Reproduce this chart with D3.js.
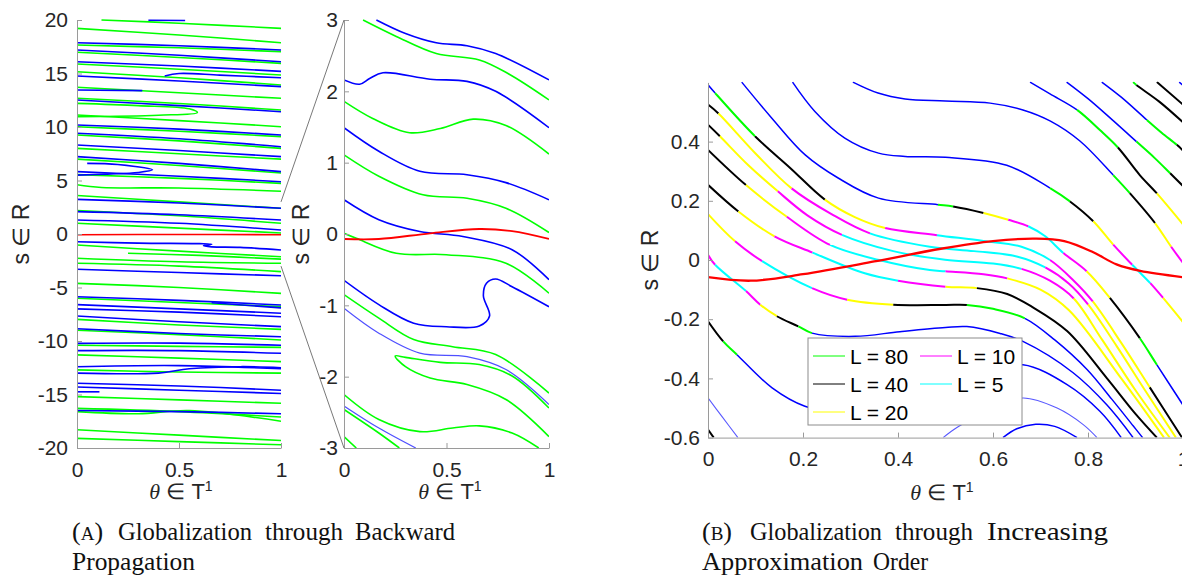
<!DOCTYPE html>
<html>
<head>
<meta charset="utf-8">
<script src="https://cdnjs.cloudflare.com/ajax/libs/d3/7.8.5/d3.min.js"></script>
<style>
  body { margin: 0; background: #fff; }
  svg { display: block; }
</style>
</head>
<body>
<svg id="fig" width="1182" height="576"></svg>
<script>
// ---------- data: panel (a), backward propagation, each curve is [theta, s] points ----------
const leftGreen = [
  [[0.12,20.0],[0.5,19.7],[1,19.22]],
  [[0,19.22],[0.5,18.6],[1,17.88]],
  [[0,17.66],[0.5,17.4],[1,17.04]],
  [[0,16.98],[0.5,16.5],[1,15.95]],
  [[0,15.89],[0.5,15.4],[1,14.86]],
  [[0,15.17],[0.5,14.6],[1,13.93]],
  [[0,13.71],[0.5,13.2],[1,12.68]],
  [[0,12.68],[0.5,12.2],[1,11.59]],
  [[0,12.21],[0.3,12.0],[0.55,11.7],[0.59,11.35],[0.4,11.1],[0,10.97]],
  [[0,11.12],[0.5,10.6],[1,10.03]],
  [[0,10.03],[0.5,9.6],[1,9.1]],
  [[0,9.25],[0.5,8.7],[1,8.0]],
  [[0,8.0],[0.5,7.5],[1,7.0]],
  [[0,7.0],[0.5,6.4],[1,5.7]],
  [[0,5.55],[0.5,5.2],[1,4.73]],
  [[0,4.6],[0.12,4.35],[0.5,4.3],[1,4.0]],
  [[0,3.6],[0.5,3.0],[1,2.4]],
  [[0,2.2],[0.5,1.7],[1,1.0]],
  [[0,1.0],[0.5,0.55],[1,0.1]],
  [[0,-1.03],[0.5,-1.6],[1,-2.12]],
  [[0.25,-1.8],[0.6,-2.0],[1,-2.35]],
  [[0,-2.27],[0.5,-2.6],[1,-2.74]],
  [[0,-2.74],[0.5,-3.0],[1,-3.52]],
  [[0,-4.61],[0.5,-5.0],[1,-5.55]],
  [[0,-6.01],[0.5,-6.4],[1,-6.79]],
  [[0,-7.98],[0.5,-8.5],[1,-8.91]],
  [[0,-9.0],[0.5,-9.4],[1,-9.9]],
  [[0,-10.4],[0.5,-10.5],[1,-10.6]],
  [[0,-11.3],[0.5,-11.6],[1,-11.93]],
  [[0,-12.7],[0.5,-12.9],[1,-13.0]],
  [[0,-15.2],[0.5,-15.5],[1,-15.82]],
  [[0,-16.3],[0.5,-16.6],[1,-17.1]],
  [[0,-16.6],[0.3,-16.8],[0.55,-16.5],[1,-17.5]],
  [[0,-18.3],[0.5,-18.8],[1,-19.3]],
  [[0,-19.1],[0.5,-19.4],[1,-19.7]]
];
const leftBlue = [
  [[0.35,19.98],[0.53,19.95]],
  [[0,17.88],[0.5,17.6],[1,17.2]],
  [[0,17.2],[0.5,16.7],[1,16.1]],
  [[0,16.1],[0.5,15.7],[1,15.2]],
  [[0.43,14.77],[0.5,15.0],[0.7,14.85],[1,14.6]],
  [[0,14.77],[0.5,14.3],[1,13.77]],
  [[0,13.46],[0.32,13.4]],
  [[0,12.52],[0.5,12.0],[1,11.43]],
  [[0,10.19],[0.5,9.8],[1,9.25]],
  [[0,9.41],[0.5,8.9],[1,8.16]],
  [[0,8.32],[0.5,7.8],[1,7.23]],
  [[0,7.23],[0.5,6.6],[1,5.83]],
  [[0.05,6.6],[0.2,6.5],[0.37,6.0],[0.3,5.75],[0.15,5.6],[0,5.5]],
  [[0,5.83],[0.5,5.4],[1,4.89]],
  [[0,3.24],[0.5,2.9],[1,2.4]],
  [[0,2.09],[0.5,1.8],[1,1.31]],
  [[0,1.31],[0.5,1.0],[1,0.37]],
  [[0,-0.72],[0.3,-0.85],[0.6,-0.9],[0.66,-0.95],[0.62,-1.1],[0.66,-1.2],[0.8,-1.25],[1,-1.5]],
  [[0,-3.3],[0.5,-3.6],[1,-3.9]],
  [[0,-5.86],[0.5,-6.2],[1,-6.63]],
  [[0,-6.6],[0.5,-7.0],[1,-7.4]],
  [[0,-7.0],[0.5,-7.3],[1,-7.73]],
  [[0.66,-6.42],[1,-6.9]],
  [[0,-7.66],[0.5,-8.2],[1,-8.66]],
  [[0,-8.85],[0.5,-9.3],[1,-9.6]],
  [[0,-10.22],[0.5,-10.2],[1,-10.4]],
  [[0,-10.9],[0.5,-10.9],[1,-11.15]],
  [[0,-12.4],[0.5,-12.3],[1,-12.6]],
  [[0,-13.0],[0.4,-13.0],[0.55,-12.6],[0.8,-12.4],[1,-12.5]],
  [[0,-13.95],[0.5,-14.2],[1,-14.6]],
  [[0,-14.3],[0.5,-14.6],[1,-14.9]],
  [[0,-14.75],[0.11,-14.75]],
  [[0,-16.5],[0.5,-16.6],[1,-16.8]]
];
const leftRed = [[0,-0.07],[0.5,-0.04],[1,-0.07]];

// ---------- data: zoomed panel, s in [-3, 3] ----------
const midGreen = [
  [[0.093,3.0],[0.255,2.77],[0.45,2.53],[0.66,2.44],[0.8,2.25],[1,1.88]],
  [[0,1.86],[0.14,1.62],[0.32,1.42],[0.47,1.48],[0.63,1.61],[0.79,1.52],[1,1.12]],
  [[0,1.11],[0.17,0.81],[0.385,0.55],[0.6,0.5],[0.79,0.36],[1,0.02]],
  [[0,0.01],[0.06,-0.06],[0.255,-0.27],[0.5,-0.29],[0.79,-0.41],[1,-0.83]],
  [[0,-0.85],[0.17,-1.18],[0.34,-1.48],[0.53,-1.58],[0.74,-1.69],[1,-2.23]],
  [[1,-2.44],[0.82,-1.99],[0.66,-1.83],[0.47,-1.8],[0.3,-1.73],[0.25,-1.71],[0.3,-1.86],[0.42,-2.02],[0.6,-2.11],[0.79,-2.32],[1,-2.84]],
  [[0,-2.25],[0.17,-2.6],[0.37,-2.77],[0.53,-2.72],[0.66,-2.69],[0.82,-2.79],[0.95,-3.0]],
  [[0,-2.46],[0.17,-2.79],[0.27,-3.0]],
  [[0,-2.84],[0.06,-3.0]]
];
const midBlue = [
  [[0.158,3.0],[0.3,2.81],[0.45,2.68],[0.6,2.64],[0.74,2.53],[1,2.16]],
  [[0,2.16],[0.076,2.1],[0.125,2.18],[0.19,2.26],[0.42,2.17],[0.6,2.14],[0.74,2.0],[1,1.49]],
  [[0,1.49],[0.17,1.16],[0.37,0.88],[0.6,0.83],[0.79,0.72],[1,0.48]],
  [[0,0.48],[0.17,0.2],[0.37,0.035],[0.58,-0.035],[0.82,-0.22],[1,-0.64]],
  [[0,-0.65],[0.17,-0.99],[0.34,-1.25],[0.5,-1.3],[0.66,-1.29],[0.71,-1.15],[0.68,-0.87],[0.695,-0.69],[0.74,-0.63],[0.82,-0.74],[1,-1.02]]
];
const midBlueFaint = [
  [[0,-1.04],[0.17,-1.39],[0.37,-1.67],[0.6,-1.72],[0.79,-1.9],[1,-2.39]],
  [[0,-2.41],[0.17,-2.72],[0.35,-3.0]]
];
const midRed = [[0,-0.07],[0.17,-0.07],[0.42,0.01],[0.66,0.07],[0.82,0.04],[1,-0.07]];

// ---------- data: panel (b), points are [theta, s, L of the following piece]; L = 0 means blue ----------
const curveR1 = [[0.305,0.601,0],[0.358,0.564,0],[0.415,0.544,0],[0.5,0.537,0],[0.594,0.53,0],[0.663,0.507,0],[0.72,0.47,0],[0.783,0.402,0],[0.853,0.287,80],[0.888,0.226,40],[0.941,0.125,20],[0.975,0.045,10],[1,-0.01,10]];
const curveR2 = [[0.178,0.601,0],[0.225,0.502,0],[0.288,0.412,0],[0.359,0.361,0],[0.415,0.35,0],[0.5,0.347,0],[0.629,0.32,0],[0.72,0.243,80],[0.762,0.198,40],[0.811,0.131,20],[0.853,0.052,10],[0.893,-0.016,5],[0.931,-0.078,10],[0.958,-0.128,20],[1,-0.21,20]];
const curveL0 = [[0.071,0.601,0],[0.134,0.48,0],[0.204,0.356,0],[0.274,0.277,0],[0.359,0.209,0],[0.484,0.187,80],[0.516,0.181,40],[0.58,0.159,20],[0.632,0.136,10],[0.674,0.114,5],[0.71,0.08,5],[0.748,0.024,10],[0.797,-0.038,20],[0.846,-0.128,40],[0.909,-0.264,80],[0.945,-0.354,0],[1,-0.49,0]];
const curveA = [[0,0.592,0],[0.015,0.564,80],[0.099,0.418,40],[0.173,0.311,40],[0.246,0.204,20],[0.309,0.145,20],[0.373,0.108,10],[0.482,0.084,5],[0.58,0.064,5],[0.66,0.045,5],[0.72,0.0,10],[0.77,-0.07,10],[0.81,-0.14,20],[0.87,-0.28,20],[0.93,-0.43,40],[0.998,-0.6,40]];
const curveB = [[0,0.525,40],[0.022,0.495,20],[0.1,0.36,20],[0.176,0.242,10],[0.26,0.155,10],[0.341,0.09,5],[0.467,0.045,5],[0.56,0.03,5],[0.65,0.012,5],[0.71,-0.025,10],[0.76,-0.08,10],[0.8,-0.15,20],[0.86,-0.29,20],[0.92,-0.44,20],[0.985,-0.6,20]];
const curveC = [[0,0.457,40],[0.025,0.418,20],[0.085,0.32,20],[0.147,0.232,10],[0.21,0.15,10],[0.282,0.085,5],[0.39,0.03,5],[0.499,0.001,5],[0.6,-0.012,5],[0.66,-0.03,10],[0.72,-0.07,10],[0.77,-0.13,20],[0.83,-0.27,20],[0.9,-0.44,20],[0.972,-0.6,20]];
const curveD = [[0,0.372,40],[0.08,0.253,20],[0.166,0.146,10],[0.257,0.051,5],[0.36,0.0,5],[0.467,-0.034,5],[0.5,-0.038,10],[0.58,-0.048,10],[0.63,-0.062,20],[0.7,-0.1,20],[0.76,-0.17,20],[0.87,-0.4,20],[0.96,-0.6,20]];
const curveE = [[0,0.254,40],[0.064,0.164,20],[0.14,0.08,10],[0.22,0.025,5],[0.33,-0.045,5],[0.4,-0.07,10],[0.5,-0.09,20],[0.566,-0.095,40],[0.63,-0.115,40],[0.684,-0.16,40],[0.756,-0.24,40],[0.84,-0.4,40],[0.9,-0.52,40],[0.945,-0.6,40]];
const curveF = [[0,0.155,20],[0.057,0.063,10],[0.114,-0.004,5],[0.219,-0.095,10],[0.293,-0.134,20],[0.39,-0.151,40],[0.5,-0.152,40],[0.545,-0.152,80],[0.6,-0.165,80],[0.667,-0.197,0],[0.73,-0.27,0],[0.798,-0.37,0],[0.85,-0.47,0],[0.895,-0.56,0],[0.915,-0.6,0]];
const curveG = [[0,0.018,10],[0.015,-0.016,5],[0.08,-0.105,10],[0.11,-0.151,20],[0.145,-0.19,40],[0.19,-0.224,80],[0.219,-0.247,0],[0.31,-0.258,0],[0.404,-0.242,0],[0.5,-0.228,0],[0.545,-0.225,0],[0.615,-0.248,0],[0.663,-0.275,0],[0.768,-0.38,0],[0.84,-0.49,0],[0.895,-0.6,0]];
const curveH = [[0,-0.207,40],[0.032,-0.275,80],[0.061,-0.32,0],[0.135,-0.432,0],[0.204,-0.494,0],[0.3,-0.52,0],[0.45,-0.47,0],[0.58,-0.38,0],[0.663,-0.354,0],[0.756,-0.421,0],[0.825,-0.511,0],[0.87,-0.6,0]];
const curveJ = [[0,-0.573,40],[0.012,-0.6,40]];
const curveArch = [[0.621,-0.6,0],[0.65,-0.57,0],[0.69,-0.555,0],[0.73,-0.562,0],[0.777,-0.6,0]];
const curveT1 = [[0.678,0.601,0],[0.72,0.561,0],[0.777,0.507,80],[0.825,0.439,80],[0.863,0.38,40],[0.909,0.287,40],[0.945,0.225,20],[1,0.12,20]];
const curveT2 = [[0.755,0.601,0],[0.8,0.545,0],[0.85,0.475,0],[0.902,0.4,80],[0.94,0.345,80],[0.973,0.293,40],[1,0.25,40]];
const curveT3 = [[0.829,0.601,0],[0.87,0.55,0],[0.924,0.473,80],[0.955,0.43,80],[0.987,0.389,40],[1,0.37,40]];
const curveT4 = [[0.895,0.601,80],[0.902,0.591,40],[0.95,0.535,40],[1,0.465,40]];
const curveT5 = [[0.945,0.601,40],[1,0.525,40]];
const curveT6 = [[0.992,0.601,0],[1,0.59,0]];
const rightCurves = [curveR1, curveR2, curveL0, curveA, curveB, curveC, curveD, curveE, curveF, curveG,
                     curveH, curveJ, curveArch, curveT1, curveT2, curveT3, curveT4, curveT5, curveT6];
const rightFaint = [
  [[0.495,-0.6],[0.524,-0.566],[0.6,-0.5],[0.663,-0.466],[0.735,-0.5],[0.79,-0.556],[0.819,-0.6]],
  [[0,-0.466],[0.03,-0.53],[0.063,-0.6]]
];
const rightRed = [[0,-0.058],[0.09,-0.07],[0.2,-0.048],[0.35,-0.005],[0.49,0.038],[0.6,0.064],[0.69,0.072],[0.75,0.064],[0.81,0.027],[0.86,-0.015],[0.91,-0.037],[1,-0.058]];

const legendLevels = [80, 40, 20, 10, 5];

// tick values
const leftYTicks = [-20,-15,-10,-5,0,5,10,15,20];
const midYTicks = [-3,-2,-1,0,1,2,3];
const thetaTicks = [0,0.5,1];
const rightXTicks = [0,0.2,0.4,0.6,0.8,1];
const rightYTicks = [-0.6,-0.4,-0.2,0,0.2,0.4];

// ---------- drawing ----------
const svg = d3.select("#fig");
const SANS = "'Liberation Sans', Arial, Helvetica, sans-serif";
const SERIF = "'Liberation Serif', 'Times New Roman', serif";
const AXIS_GRAY = "#9a9a9a";

const xL = d3.scaleLinear().domain([0,1]).range([77,281]);
const yL = d3.scaleLinear().domain([-20,20]).range([448,20]);
const xM = d3.scaleLinear().domain([0,1]).range([344,549]);
const yM = d3.scaleLinear().domain([-3,3]).range([448,20]);
const xR = d3.scaleLinear().domain([0,1]).range([708,1183]);
const yR = d3.scaleLinear().domain([-0.6,0.6]).range([437.6,82.4]);

const levelColor = d3.scaleOrdinal()
  .domain([80,40,20,10,5,0])
  .range(["#00ff00","#000000","#ffff00","#ff00ff","#00ffff","#0000ff"]);

const defs = svg.append("defs");
function addClip(id, x, y) {
  defs.append("clipPath").attr("id", id).append("rect")
    .attr("x", x.range()[0]).attr("y", y.range()[1] - 1)
    .attr("width", x.range()[1] - x.range()[0])
    .attr("height", y.range()[0] - y.range()[1] + 1);
}
addClip("clipL", xL, yL);
addClip("clipM", xM, yM);
addClip("clipR", xR, yR);

function makeLine(x, y) {
  return d3.line().x(d => x(d[0])).y(d => y(d[1])).curve(d3.curveCatmullRom.alpha(0.5));
}
const lineL = makeLine(xL, yL), lineM = makeLine(xM, yM), lineR = makeLine(xR, yR);

function drawSet(g, line, data, color, width) {
  g.selectAll(null).data(data).enter().append("path")
    .attr("d", d => line(d))
    .attr("fill", "none")
    .attr("stroke", color)
    .attr("stroke-width", width);
}

// axes, MATLAB style: ticks inside, box off
function drawAxes(x, y, yTicks, xTicks, padY, padX) {
  const gy = svg.append("g")
    .attr("transform", `translate(${x.range()[0]},0)`)
    .call(d3.axisLeft(y).tickValues(yTicks).tickFormat(d => String(d))
      .tickSizeInner(-5).tickSizeOuter(0).tickPadding(padY));
  const gx = svg.append("g")
    .attr("transform", `translate(0,${y.range()[0]})`)
    .call(d3.axisBottom(x).tickValues(xTicks).tickFormat(d => String(d))
      .tickSizeInner(-5).tickSizeOuter(0).tickPadding(padX));
  [gy, gx].forEach(g => {
    g.attr("font-size", 21).attr("font-family", SANS);
    g.select(".domain").attr("stroke", AXIS_GRAY);
    g.selectAll(".tick line").attr("stroke", AXIS_GRAY);
    g.selectAll(".tick text").attr("fill", "#262626");
  });
}

function yLabel(xBase, yCenter) {
  svg.append("text")
    .attr("transform", `translate(${xBase},${yCenter}) rotate(-90)`)
    .attr("text-anchor", "middle")
    .attr("font-family", SANS).attr("font-size", 23).attr("fill", "#262626")
    .text("s \u2208 R");
}
function xLabel(xCenter, yBase) {
  const t = svg.append("text")
    .attr("x", xCenter).attr("y", yBase)
    .attr("text-anchor", "middle")
    .attr("font-family", SANS).attr("font-size", 22).attr("fill", "#262626");
  t.append("tspan").attr("font-family", SERIF).attr("font-style", "italic").text("\u03b8");
  t.append("tspan").text(" \u2208 T");
  t.append("tspan").attr("font-size", 14).attr("dy", -8).text("1");
}

// panel (a) left: full range
const gL = svg.append("g").attr("clip-path", "url(#clipL)");
drawSet(gL, lineL, leftGreen, "#00ff00", 1.6);
drawSet(gL, lineL, leftBlue, "#0000ff", 1.6);
drawSet(gL, lineL, [leftRed], "#ff0000", 1.6);
drawAxes(xL, yL, leftYTicks, thetaTicks, 9, 14);
yLabel(29, 234);
xLabel(181, 499);

// panel (a) right: zoom of s in [-3,3]
const gM = svg.append("g").attr("clip-path", "url(#clipM)");
drawSet(gM, lineM, midGreen, "#00ff00", 1.6);
drawSet(gM, lineM, midBlue, "#0000ff", 1.6);
drawSet(gM, lineM, midBlueFaint, "#4f4fff", 1.2);
drawSet(gM, lineM, [midRed], "#ff0000", 1.8);
drawAxes(xM, yM, midYTicks, thetaTicks, 6, 14);
yLabel(309, 234);
xLabel(450, 499);

// zoom connector lines
[3, -3].forEach(s => {
  svg.append("line")
    .attr("x1", xL(1)).attr("y1", yL(s))
    .attr("x2", xM(0)).attr("y2", yM(s))
    .attr("stroke", "#555").attr("stroke-width", 0.8);
});

// panel (b): curves coloured by approximation order
const gR = svg.append("g").attr("clip-path", "url(#clipR)");
drawSet(gR, lineR, rightFaint, "#5a5aff", 1.1);
const tmp = svg.append("path").attr("fill", "none").attr("stroke", "none");
rightCurves.forEach(pts => {
  const full = lineR(pts);
  tmp.attr("d", full);
  const total = tmp.node().getTotalLength();
  const lens = pts.map((p, i) => {
    if (i === 0) return 0;
    if (i === pts.length - 1) return total;
    tmp.attr("d", lineR(pts.slice(0, i + 1)));
    return tmp.node().getTotalLength();
  });
  let i0 = 0;
  for (let i = 1; i < pts.length; i++) {
    if (i === pts.length - 1 || pts[i][2] !== pts[i0][2]) {
      const a = lens[i0], b = lens[i];
      const L = pts[i0][2];
      gR.append("path")
        .attr("d", full)
        .attr("fill", "none")
        .attr("stroke", levelColor(L))
        .attr("stroke-width", L === 0 ? 1.5 : 2)
        .attr("stroke-dasharray", `0 ${a} ${b - a} ${total + 20}`);
      i0 = i;
    }
  }
});
tmp.remove();
drawSet(gR, lineR, [rightRed], "#ff0000", 2.3);
drawAxes(xR, yR, rightYTicks, rightXTicks, 8, 13);
yLabel(658, 260);
xLabel(942, 500);

// legend
const lg = svg.append("g");
lg.append("rect")
  .attr("x", 808).attr("y", 338).attr("width", 214).attr("height", 87)
  .attr("fill", "#fff").attr("stroke", "#8c8c8c").attr("stroke-width", 1);
legendLevels.forEach((L, i) => {
  const col = i < 3 ? 0 : 1;
  const row = i < 3 ? i : i - 3;
  const x0 = col === 0 ? 813 : 920;
  const yc = 356 + row * 28;
  lg.append("line")
    .attr("x1", x0).attr("x2", x0 + 32).attr("y1", yc).attr("y2", yc)
    .attr("stroke", levelColor(L)).attr("stroke-width", 1);
  lg.append("text")
    .attr("x", x0 + 37).attr("y", yc).attr("dy", "0.36em")
    .attr("font-family", SANS).attr("font-size", 21).attr("fill", "#000")
    .text(`L = ${L}`);
});

// captions
function captionWord(x, y, str, len) {
  return svg.append("text")
    .attr("x", x).attr("y", y)
    .attr("font-family", SERIF).attr("font-size", 26).attr("fill", "#111")
    .attr("textLength", len).attr("lengthAdjust", "spacingAndGlyphs")
    .text(str);
}
function captionTag(x, y, letter) {
  const t = svg.append("text").attr("x", x).attr("y", y)
    .attr("font-family", SERIF).attr("font-size", 26).attr("fill", "#111");
  t.append("tspan").text("(");
  t.append("tspan").attr("font-size", 19).text(letter);
  t.append("tspan").text(")");
}
captionTag(72, 540, "A");
captionWord(118, 540, "Globalization", 134);
captionWord(265, 540, "through", 78);
captionWord(355, 540, "Backward", 100);
captionWord(72, 570, "Propagation", 123);

captionTag(702, 540, "B");
captionWord(750, 540, "Globalization", 132);
captionWord(895, 540, "through", 78);
captionWord(987, 540, "Increasing", 121);
captionWord(702, 570, "Approximation", 161);
captionWord(873, 570, "Order", 55);
</script>
</body>
</html>
